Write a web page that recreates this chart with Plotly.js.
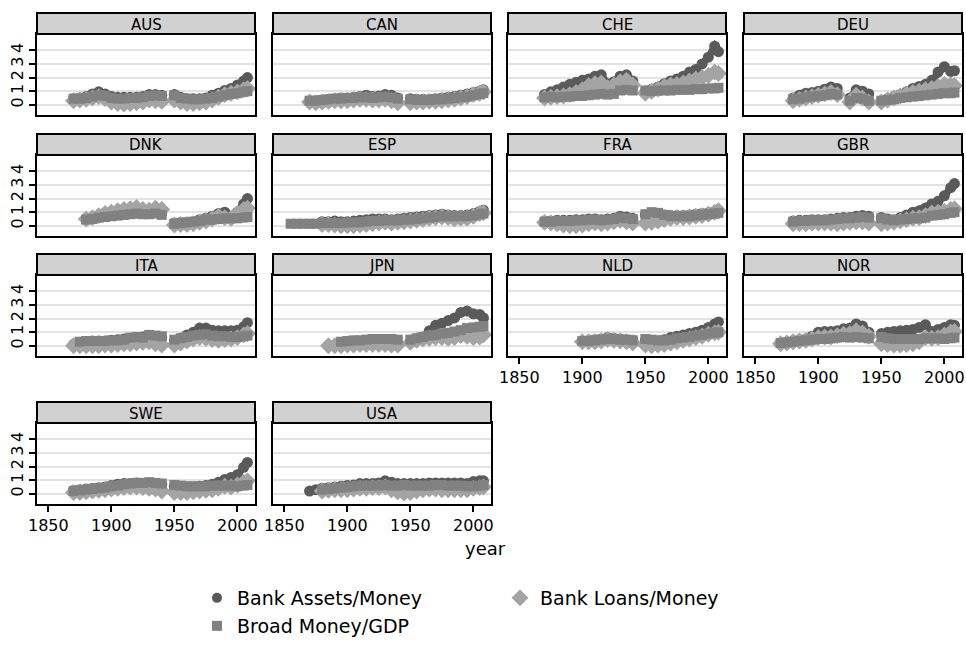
<!DOCTYPE html>
<html>
<head>
<meta charset="utf-8">
<script src="https://cdn.plot.ly/plotly-3.0.1.min.js"></script>
<style>html,body{margin:0;padding:0;background:#fff;}#chart{width:966px;height:650px;}</style>
</head>
<body>
<div id="chart"></div>
<script>
// ---------------- DATA ----------------
const years = [1855,1860,1865,1870,1875,1880,1885,1890,1895,1900,1905,1910,1915,1920,1925,1930,1935,1940,1945,1950,1955,1960,1965,1970,1975,1980,1985,1990,1995,2000,2005,2008];
const countries = ['AUS','CAN','CHE','DEU','DNK','ESP','FRA','GBR','ITA','JPN','NLD','NOR','SWE','USA'];
const seriesNames = ['Bank Assets/Money','Bank Loans/Money','Broad Money/GDP'];
const xTicks = [1850,1900,1950,2000];
const yTicks = [0,1,2,3,4];

const AUS_assets = [null,null,null,0.45,0.5,0.6,0.8,0.95,0.8,0.6,0.55,0.55,0.55,0.55,0.6,0.75,0.75,0.7,null,0.75,0.55,0.45,0.45,0.45,0.5,0.7,0.85,1.05,1.2,1.45,1.75,2.0];
const AUS_loans  = [null,null,null,0.3,0.35,0.4,0.5,0.6,0.45,0.2,0.1,0.05,0.1,0.15,0.2,0.35,0.3,0.25,null,0.35,0.2,0.1,0.1,0.15,0.2,0.35,0.55,0.75,0.85,0.95,1.1,1.2];
const AUS_broad  = [null,null,null,0.45,0.45,0.5,0.6,0.7,0.65,0.5,0.45,0.45,0.5,0.5,0.55,0.65,0.7,0.65,null,0.7,0.5,0.45,0.4,0.4,0.45,0.5,0.6,0.7,0.8,0.85,0.95,1.0];

const CAN_assets = [null,null,null,0.25,0.3,0.35,0.4,0.45,0.5,0.5,0.55,0.6,0.7,0.6,0.65,0.75,0.7,0.5,null,0.45,0.4,0.4,0.4,0.45,0.5,0.55,0.6,0.7,0.8,0.9,1.0,1.1];
const CAN_loans  = [null,null,null,0.2,0.15,0.2,0.25,0.3,0.3,0.3,0.35,0.4,0.4,0.35,0.35,0.4,0.3,0.15,null,0.15,0.2,0.2,0.25,0.25,0.3,0.35,0.4,0.5,0.6,0.75,0.85,0.95];
const CAN_broad  = [null,null,null,0.3,0.3,0.35,0.4,0.45,0.45,0.5,0.5,0.55,0.55,0.5,0.55,0.6,0.55,0.45,null,0.4,0.35,0.35,0.35,0.4,0.4,0.45,0.5,0.55,0.6,0.7,0.8,0.85];

const CHE_assets = [null,null,null,0.75,0.95,1.1,1.3,1.5,1.65,1.8,1.9,2.1,2.2,1.55,1.7,2.1,2.2,1.75,null,1.0,1.15,1.3,1.55,1.75,1.9,2.1,2.4,2.6,3.0,3.5,4.3,3.9];
const CHE_loans  = [null,null,null,0.5,0.55,0.6,0.65,0.75,0.9,1.1,1.4,1.55,1.6,1.25,1.45,1.7,1.8,1.45,null,0.85,1.0,1.15,1.35,1.45,1.5,1.6,1.75,1.9,2.0,2.15,2.4,2.3];
const CHE_broad  = [null,null,null,0.55,0.6,0.55,0.6,0.6,0.65,0.65,0.7,0.75,0.8,0.75,0.8,1.05,1.1,1.05,null,1.05,1.0,1.05,1.05,1.05,1.1,1.1,1.1,1.15,1.15,1.2,1.2,1.25];

const DEU_assets = [null,null,null,null,null,0.5,0.7,0.85,0.9,1.0,1.15,1.3,1.2,null,0.5,1.1,1.0,0.8,null,0.3,0.45,0.6,0.75,0.95,1.2,1.35,1.5,1.8,2.4,2.8,2.45,2.5];
const DEU_loans  = [null,null,null,null,null,0.3,0.4,0.5,0.6,0.7,0.8,0.9,0.75,null,0.2,0.7,0.5,0.2,null,0.2,0.35,0.5,0.65,0.8,0.9,1.0,1.1,1.2,1.35,1.5,1.45,1.4];
const DEU_broad  = [null,null,null,null,null,0.4,0.45,0.55,0.6,0.65,0.7,0.8,0.75,null,0.3,0.5,0.45,0.3,null,0.3,0.35,0.4,0.5,0.55,0.6,0.65,0.7,0.75,0.8,0.85,0.85,0.9];

const DNK_assets = [null,null,null,null,null,0.5,0.55,0.65,0.75,0.8,0.85,0.9,0.95,1.0,0.95,0.95,1.0,0.95,null,0.2,0.25,0.25,0.3,0.45,0.55,0.7,0.9,1.0,0.7,1.0,1.6,2.0];
const DNK_loans  = [null,null,null,null,null,0.5,0.6,0.75,0.9,1.0,1.1,1.2,1.25,1.35,1.2,1.15,1.3,1.2,null,0.05,0.1,0.1,0.15,0.25,0.35,0.5,0.7,0.6,0.55,0.9,1.2,1.3];
const DNK_broad  = [null,null,null,null,null,0.45,0.5,0.6,0.65,0.7,0.75,0.8,0.85,0.9,0.85,0.85,0.9,0.8,null,0.15,0.2,0.25,0.3,0.35,0.45,0.45,0.5,0.55,0.55,0.55,0.6,0.65];

const ESP_assets = [null,null,null,null,null,0.3,0.3,0.35,0.3,0.3,0.35,0.4,0.45,0.5,0.5,0.5,0.45,0.5,0.55,0.6,0.65,0.7,0.75,0.8,0.85,0.8,0.75,0.75,0.8,0.9,1.05,1.15];
const ESP_loans  = [null,null,null,null,null,0.1,0.1,0.05,0.0,0.0,0.0,0.05,0.1,0.15,0.2,0.25,0.2,0.25,0.3,0.35,0.4,0.45,0.55,0.6,0.65,0.6,0.5,0.55,0.55,0.7,0.9,0.95];
const ESP_broad  = [0.15,0.15,0.15,0.15,0.15,0.2,0.2,0.2,0.2,0.25,0.25,0.25,0.3,0.35,0.35,0.4,0.4,0.4,0.45,0.45,0.5,0.55,0.6,0.65,0.7,0.7,0.7,0.7,0.7,0.75,0.85,0.9];

const FRA_assets = [null,null,null,0.35,0.35,0.4,0.4,0.4,0.45,0.45,0.5,0.5,0.45,0.5,0.55,0.7,0.65,0.55,null,0.8,0.85,0.9,0.8,0.75,0.75,0.75,0.8,0.85,0.9,0.95,1.05,1.15];
const FRA_loans  = [null,null,null,0.25,0.2,0.15,0.05,0.0,0.0,0.05,0.15,0.2,0.15,0.2,0.3,0.4,0.3,0.2,null,0.2,0.25,0.35,0.45,0.55,0.6,0.6,0.65,0.7,0.75,0.85,1.0,1.1];
const FRA_broad  = [null,null,null,0.3,0.3,0.35,0.35,0.35,0.4,0.4,0.45,0.45,0.4,0.45,0.5,0.6,0.55,0.5,null,0.85,1.0,0.95,0.8,0.7,0.7,0.7,0.7,0.75,0.8,0.85,0.9,0.95];

const GBR_assets = [null,null,null,null,null,0.35,0.4,0.4,0.45,0.45,0.45,0.5,0.55,0.6,0.6,0.7,0.75,0.7,null,0.6,0.5,0.45,0.6,0.8,1.0,1.1,1.3,1.6,1.8,2.2,2.8,3.1];
const GBR_loans  = [null,null,null,null,null,0.15,0.15,0.15,0.2,0.2,0.2,0.2,0.15,0.2,0.25,0.3,0.3,0.2,null,0.15,0.2,0.25,0.35,0.45,0.55,0.6,0.75,0.95,1.0,1.05,1.2,1.25];
const GBR_broad  = [null,null,null,null,null,0.3,0.35,0.35,0.4,0.4,0.4,0.45,0.5,0.55,0.55,0.6,0.65,0.6,null,0.55,0.45,0.4,0.45,0.5,0.55,0.55,0.6,0.75,0.8,0.85,0.95,1.0];

const ITA_assets = [null,null,null,0.1,0.2,0.3,0.35,0.35,0.35,0.4,0.45,0.5,0.55,0.6,0.65,0.75,0.65,0.6,null,0.35,0.55,0.8,1.0,1.3,1.3,1.15,1.1,1.1,1.1,1.15,1.4,1.7];
const ITA_loans  = [null,null,null,0.0,0.0,0.0,0.0,0.0,0.05,0.05,0.1,0.15,0.15,0.2,0.25,0.3,0.15,0.05,null,0.05,0.2,0.35,0.5,0.6,0.55,0.45,0.4,0.45,0.5,0.6,0.8,0.9];
const ITA_broad  = [null,null,null,null,0.3,0.35,0.35,0.35,0.35,0.4,0.4,0.45,0.6,0.65,0.6,0.8,0.75,0.7,null,0.45,0.55,0.65,0.75,0.8,0.85,0.75,0.7,0.7,0.65,0.65,0.7,0.75];

const JPN_assets = [null,null,null,null,null,null,null,null,null,null,null,null,null,null,null,null,null,null,null,null,null,null,1.1,1.5,1.65,1.85,2.05,2.45,2.55,2.35,2.3,2.05];
const JPN_loans  = [null,null,null,null,null,null,0.0,0.0,0.0,0.05,0.05,0.1,0.1,0.1,0.1,0.1,0.05,0.05,null,0.25,0.4,0.5,0.55,0.6,0.6,0.55,0.6,0.75,0.7,0.6,0.65,0.8];
const JPN_broad  = [null,null,null,null,null,null,null,null,0.3,0.35,0.4,0.4,0.45,0.5,0.5,0.5,0.5,0.45,null,0.45,0.55,0.65,0.75,0.8,0.9,0.95,1.05,1.15,1.3,1.35,1.4,1.45];

const NLD_assets = [null,null,null,null,null,null,null,null,null,0.35,0.4,0.45,0.5,0.6,0.55,0.5,0.45,0.4,null,0.4,0.35,0.35,0.45,0.6,0.7,0.8,0.9,1.0,1.15,1.35,1.6,1.75];
const NLD_loans  = [null,null,null,null,null,null,null,null,null,0.3,0.3,0.3,0.35,0.45,0.4,0.35,0.3,0.2,null,0.05,0.0,0.05,0.1,0.2,0.3,0.4,0.5,0.6,0.7,0.85,0.95,1.0];
const NLD_broad  = [null,null,null,null,null,null,null,null,null,0.35,0.35,0.4,0.45,0.5,0.5,0.45,0.45,0.4,null,0.5,0.45,0.4,0.4,0.45,0.55,0.6,0.65,0.75,0.8,0.9,0.95,1.0];

const NOR_assets = [null,null,null,0.2,0.25,0.35,0.45,0.5,0.7,1.0,1.05,1.05,1.1,1.25,1.3,1.6,1.45,1.0,null,0.9,1.0,1.05,1.1,1.15,1.2,1.35,1.55,1.05,1.2,1.35,1.55,1.5];
const NOR_loans  = [null,null,null,0.15,0.2,0.3,0.35,0.4,0.5,0.6,0.65,0.65,0.75,0.85,0.9,1.1,0.95,0.7,null,0.15,0.1,0.05,0.05,0.1,0.15,0.3,0.6,0.55,0.6,0.8,1.0,1.05];
const NOR_broad  = [null,null,null,0.2,0.25,0.3,0.35,0.4,0.45,0.5,0.5,0.55,0.6,0.65,0.6,0.65,0.6,0.55,null,0.65,0.55,0.5,0.5,0.5,0.5,0.5,0.55,0.55,0.55,0.5,0.55,0.6];

const SWE_assets = [null,null,null,0.25,0.3,0.35,0.4,0.45,0.5,0.6,0.7,0.75,0.75,0.8,0.75,0.8,0.75,0.7,null,0.55,0.5,0.5,0.5,0.55,0.6,0.7,0.85,1.05,1.2,1.4,1.95,2.3];
const SWE_loans  = [null,null,null,0.1,0.1,0.15,0.2,0.25,0.3,0.35,0.4,0.45,0.5,0.5,0.45,0.4,0.35,0.2,null,0.1,0.1,0.1,0.15,0.2,0.25,0.3,0.4,0.55,0.5,0.65,0.85,0.95];
const SWE_broad  = [null,null,null,0.2,0.25,0.3,0.35,0.4,0.45,0.55,0.6,0.7,0.75,0.8,0.8,0.85,0.8,0.75,null,0.65,0.6,0.55,0.55,0.55,0.55,0.6,0.6,0.6,0.6,0.55,0.6,0.65];

const USA_assets = [null,null,null,0.2,0.3,0.4,0.45,0.5,0.55,0.6,0.65,0.75,0.75,0.75,0.8,0.95,0.85,0.75,0.75,0.75,0.75,0.75,0.8,0.8,0.8,0.8,0.8,0.8,0.75,0.9,0.95,0.95];
const USA_loans  = [null,null,null,null,null,0.2,0.25,0.3,0.3,0.3,0.35,0.4,0.4,0.45,0.45,0.5,0.3,0.15,0.05,0.1,0.2,0.3,0.35,0.35,0.3,0.3,0.3,0.3,0.3,0.4,0.45,0.5];
const USA_broad  = [null,null,null,null,null,0.3,0.35,0.4,0.45,0.5,0.55,0.6,0.6,0.6,0.6,0.65,0.6,0.6,0.65,0.6,0.6,0.6,0.6,0.65,0.65,0.6,0.6,0.6,0.55,0.55,0.6,0.65];

// lookup table built from the arrays above
const DATA = {
  AUS:[AUS_assets,AUS_loans,AUS_broad], CAN:[CAN_assets,CAN_loans,CAN_broad],
  CHE:[CHE_assets,CHE_loans,CHE_broad], DEU:[DEU_assets,DEU_loans,DEU_broad],
  DNK:[DNK_assets,DNK_loans,DNK_broad], ESP:[ESP_assets,ESP_loans,ESP_broad],
  FRA:[FRA_assets,FRA_loans,FRA_broad], GBR:[GBR_assets,GBR_loans,GBR_broad],
  ITA:[ITA_assets,ITA_loans,ITA_broad], JPN:[JPN_assets,JPN_loans,JPN_broad],
  NLD:[NLD_assets,NLD_loans,NLD_broad], NOR:[NOR_assets,NOR_loans,NOR_broad],
  SWE:[SWE_assets,SWE_loans,SWE_broad], USA:[USA_assets,USA_loans,USA_broad]
};

// ---------------- STYLE / LAYOUT ----------------
const W = 966, H = 650;
const FONT = 'DejaVu Sans, Verdana, sans-serif';
const colors = ['#5a5a5a','#a4a4a4','#818181'];
const symbols = ['circle','diamond','square'];
const msize = [11,13,10];
const colLeft = [37, 273, 508, 744];
const panelW = 218;
const rowTop = [13, 134, 254, 402];
const stripH = 21, plotH = 81;
const bottomPanels = ['NLD','NOR','SWE','USA'];

const traces = [];
const layout = {
  width: W, height: H,
  margin: {l:0, r:0, t:0, b:0},
  paper_bgcolor: '#ffffff', plot_bgcolor: '#ffffff',
  font: {family: FONT, color: '#000', size: 14},
  showlegend: true,
  shapes: [], annotations: [],
  hovermode: false
};

countries.forEach((c, i) => {
  const r = Math.floor(i / 4), k = i % 4;
  const n = i === 0 ? '' : String(i + 1);
  const x0 = colLeft[k], x1 = x0 + panelW;
  const top = rowTop[r] + stripH, bot = top + plotH;
  const isBottom = bottomPanels.includes(c);
  const isLeft = k === 0;

  layout['xaxis' + n] = {
    domain: [x0 / W, x1 / W], anchor: 'y' + n,
    range: [1841, 2014], showgrid: false, zeroline: false,
    showline: true, mirror: true, linecolor: '#000', linewidth: 2,
    tickvals: xTicks, ticks: isBottom ? 'outside' : '', ticklen: 6, tickwidth: 2, tickcolor: '#000',
    showticklabels: isBottom, tickfont: {family: FONT, size: 16, color: '#000'}
  };
  layout['yaxis' + n] = {
    domain: [(H - bot) / H, (H - top) / H], anchor: 'x' + n,
    range: [-0.75, 5.2], tickvals: yTicks,
    showgrid: true, gridcolor: '#e2e2e2', gridwidth: 2, zeroline: false,
    showline: true, mirror: true, linecolor: '#000', linewidth: 2,
    ticks: isLeft ? 'outside' : '', ticklen: 6, tickwidth: 2, tickcolor: '#000',
    showticklabels: isLeft, tickangle: -90, tickfont: {family: FONT, size: 16, color: '#000'}
  };

  // header strip
  layout.shapes.push({
    type: 'rect', xref: 'paper', yref: 'paper',
    x0: x0 / W, x1: x1 / W, y0: (H - top) / H, y1: (H - rowTop[r]) / H,
    fillcolor: '#d1d1d1', line: {color: '#000', width: 2}, layer: 'above'
  });
  layout.annotations.push({
    xref: 'paper', yref: 'paper', x: (x0 + x1) / 2 / W, y: (H - rowTop[r] - stripH / 2 - 1) / H,
    text: c, showarrow: false, xanchor: 'center', yanchor: 'middle',
    font: {family: FONT, size: 15, color: '#000'}
  });

  DATA[c].forEach((vals, s) => {
    traces.push({
      type: 'scatter', mode: 'lines+markers',
      x: years, y: vals, xaxis: 'x' + n, yaxis: 'y' + n,
      name: seriesNames[s], showlegend: false, connectgaps: false, cliponaxis: true,
      line: {color: colors[s], width: 7},
      marker: {symbol: symbols[s], size: msize[s], color: colors[s], line: {width: 0}}
    });
  });
});

// legend entries (no data of their own)
seriesNames.forEach((nm, s) => {
  traces.push({
    type: 'scatter', mode: 'markers', x: [null], y: [null], name: nm,
    legend: s === 2 ? 'legend2' : 'legend',
    marker: {symbol: symbols[s], size: s === 1 ? 13 : 10, color: colors[s]},
    showlegend: true
  });
});

const legBase = {
  orientation: 'h', xref: 'paper', yref: 'paper', xanchor: 'left', yanchor: 'middle',
  x: 197 / W, bgcolor: 'rgba(0,0,0,0)', borderwidth: 0,
  font: {family: FONT, size: 19, color: '#000'},
  entrywidth: 258, entrywidthmode: 'pixels', itemclick: false, itemdoubleclick: false
};
layout.legend = Object.assign({}, legBase, {y: (H - 598) / H});
layout.legend2 = Object.assign({}, legBase, {y: (H - 626) / H});

layout.annotations.push({
  xref: 'paper', yref: 'paper', x: 486 / W, y: (H - 548) / H,
  text: 'year', showarrow: false, xanchor: 'center', yanchor: 'middle',
  font: {family: FONT, size: 18, color: '#000'}
});

Plotly.newPlot('chart', traces, layout, {staticPlot: true, displayModeBar: false});
</script>
</body>
</html>
